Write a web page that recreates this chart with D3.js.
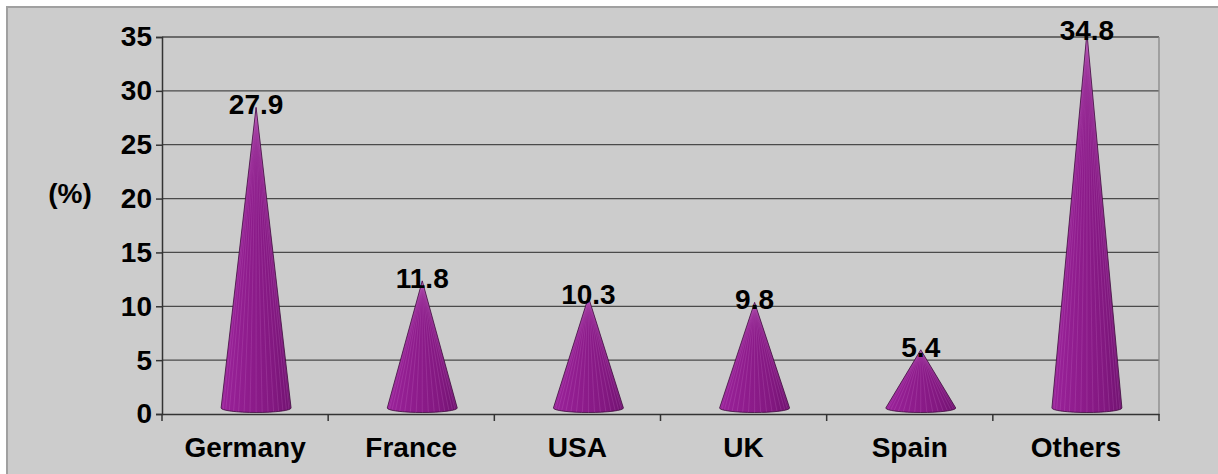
<!DOCTYPE html>
<html><head><meta charset="utf-8">
<script src="https://cdn.jsdelivr.net/npm/d3@7"></script>
<style>
html,body{margin:0;padding:0;background:#fff;}
svg{display:block;}
text{font-family:"Liberation Sans",Arial,sans-serif;font-weight:bold;fill:#000;}
</style></head>
<body>
<svg id="chart" width="1218" height="474"></svg>
<script>
const categories = ["Germany","France","USA","UK","Spain","Others"];
const values = [27.9, 11.8, 10.3, 9.8, 5.4, 34.8];
const yTicks = [0,5,10,15,20,25,30,35];
const yAxisLabel = "(%)";

const W = 1218, H = 474;
const svg = d3.select("#chart");
const plot = {left:162, right:1159, top:37, bottom:414};

svg.append("rect").attr("x",0).attr("y",0).attr("width",W).attr("height",H).attr("fill","#ffffff");
svg.append("rect").attr("x",7).attr("y",7).attr("width",W).attr("height",H).attr("fill","#cccccc")
  .attr("stroke","#a0a0a0").attr("stroke-width",2);

const x = d3.scaleBand().domain(categories).range([plot.left, plot.right]).padding(0);
const y = d3.scaleLinear().domain([0,35]).range([plot.bottom, plot.top]);

svg.append("g").selectAll("line").data(yTicks.filter(d=>d>0)).join("line")
  .attr("x1",plot.left).attr("x2",plot.right)
  .attr("y1",d=>y(d)).attr("y2",d=>y(d))
  .attr("stroke","#4a4a4a").attr("stroke-width",1.3);
svg.append("line").attr("x1",plot.right).attr("x2",plot.right).attr("y1",plot.top).attr("y2",plot.bottom)
  .attr("stroke","#888").attr("stroke-width",1.3);

const yAxis = d3.axisLeft(y).tickValues(yTicks).tickSize(6).tickPadding(4).tickFormat(d3.format("d"));
const gy = svg.append("g").attr("transform",`translate(${plot.left},0)`).call(yAxis);
gy.select(".domain").attr("stroke","#333").attr("stroke-width",1.5);
gy.selectAll(".tick line").attr("stroke","#333").attr("stroke-width",1.5);
gy.selectAll(".tick text").style("font-size","28px").style("font-weight","bold")
  .style("font-family","'Liberation Sans',Arial,sans-serif").attr("fill","#000");

const xAxis = d3.axisBottom(x).tickSize(0).tickPadding(0).tickFormat(()=>"");
const gx = svg.append("g").attr("transform",`translate(0,${plot.bottom})`).call(xAxis);
gx.select(".domain").attr("stroke","#333").attr("stroke-width",1.5);
const seps = categories.map(c=>x(c)).concat([plot.right]);
svg.append("g").selectAll("line").data(seps).join("line")
  .attr("x1",d=>d).attr("x2",d=>d).attr("y1",plot.bottom).attr("y2",plot.bottom+7)
  .attr("stroke","#333").attr("stroke-width",1.5);
svg.append("g").selectAll("text").data(categories).join("text")
  .attr("x",d=>x(d)+x.bandwidth()/2).attr("y",457)
  .attr("text-anchor","middle").style("font-size","28px").text(d=>d);

svg.append("text").attr("x",70).attr("y",203).attr("text-anchor","middle")
  .style("font-size","28px").text(yAxisLabel);

const defs = svg.append("defs");
const grad = defs.append("linearGradient").attr("id","coneGrad").attr("x1","0").attr("x2","1").attr("y1","0").attr("y2","0");
grad.append("stop").attr("offset","0%").attr("stop-color","#9a229a");
grad.append("stop").attr("offset","40%").attr("stop-color","#8e1c8c");
grad.append("stop").attr("offset","75%").attr("stop-color","#821880");
grad.append("stop").attr("offset","100%").attr("stop-color","#701270");

const depthDx = 11, depthDy = 6, R = 35, ry = 4.5;
const cones = svg.append("g");
categories.forEach((c,i)=>{
  const v = values[i];
  const cx = x(c) + x.bandwidth()/2 + depthDx;
  const by = y(0) - depthDy;
  const ty = y(v) - depthDy;
  const g = cones.append("g");
  const p = `M${cx-R},${by} L${cx},${ty} L${cx+R},${by} A${R},${ry} 0 0 1 ${cx-R},${by} Z`;
  g.append("path").attr("d",p).attr("fill","url(#coneGrad)");
  const n = 18;
  for(let k=1;k<n;k++){
    const th = Math.PI - k*Math.PI/n;
    const bx = cx + R*Math.cos(th);
    const byy = by + ry*Math.sin(th);
    g.append("line").attr("x1",cx).attr("y1",ty).attr("x2",bx).attr("y2",byy)
      .attr("stroke","#d68ad6").attr("stroke-opacity",0.3).attr("stroke-width",0.6);
  }
  g.append("path").attr("d",p).attr("fill","none").attr("stroke","#3e0a3c").attr("stroke-width",0.8);
  svg.append("text").attr("x",cx).attr("y",y(v)+1).attr("text-anchor","middle")
    .style("font-size","28px").text(v.toFixed(1));
});
</script>
</body></html>
